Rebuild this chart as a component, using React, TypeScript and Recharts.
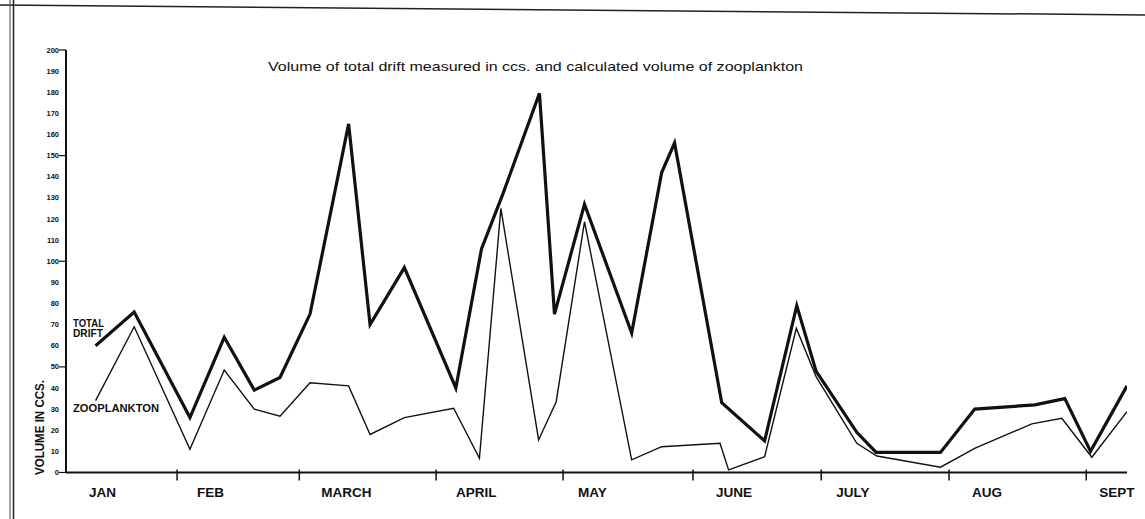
import React from 'react';
import { LineChart, Line, XAxis, YAxis } from 'recharts';

const monthTicks = [5.1, 31, 59.5, 91.4, 121, 151.3, 181.2, 211, 243];
const monthLabels = ['JAN', 'FEB', 'MARCH', 'APRIL', 'MAY', 'JUNE', 'JULY', 'AUG', 'SEPT'];
const yTicks = [0, 10, 20, 30, 40, 50, 60, 70, 80, 90, 100, 110, 120, 130, 140, 150, 160, 170, 180, 190, 200];

const totalDays = [12, 21, 34, 42, 49, 55, 62, 71, 76, 84, 96, 102, 107, 115.5, 119, 126, 137, 144, 147, 158, 168, 175.5, 180, 189.5, 194, 209, 217, 231, 238, 244, 252.5];
const totalValues = [60, 76, 26, 64, 39, 45, 75, 165, 70, 97, 40, 106, 132, 179.5, 75, 127, 66, 142, 156, 33, 15, 79, 48, 19, 9.5, 9.5, 30, 32, 35, 10, 41];

const zooDays = [12, 21, 34, 42, 49, 55, 62, 71, 76, 84, 95.5, 101.5, 106.5, 115.3, 119.4, 126, 137, 144, 157.6, 159.6, 168, 175.4, 180, 189.5, 194.2, 209, 217.1, 230.3, 237.3, 244.3, 252.5];
const zooValues = [34, 69, 11, 48.5, 30, 26.7, 42.5, 41, 18, 26, 30.4, 6.7, 125, 15.4, 33.5, 118.7, 6, 12.2, 13.8, 1.2, 7.5, 68.3, 45.4, 13.8, 7.8, 2.5, 11.5, 23, 25.7, 7.2, 28.8];

const totalData = totalDays.map((d, i) => ({ day: d, v: totalValues[i] }));
const zooData = zooDays.map((d, i) => ({ day: d, v: zooValues[i] }));

// label horizontal offsets from each month tick (style only)
const LABEL_DX = [23, 20, 22, 20, 15, 23, 15, 23, 13];

const FONT = 'Liberation Sans, Arial, Helvetica, sans-serif';

const YTick = (props: any) => {
  const { x, y, payload } = props;
  const major = payload.value % 50 === 0;
  return (
    <g>
      <text x={x - 7} y={y} dy={2.6} textAnchor="end" fontSize={7.5} fontWeight="bold" fontFamily={FONT} fill="#111" stroke="none">
        {payload.value}
      </text>
      {major && <line x1={x - 7} x2={x} y1={y} y2={y} stroke="#111" strokeWidth={1.2} />}
    </g>
  );
};

const XTick = (props: any) => {
  const { x, y, payload, index } = props;
  const idx = monthTicks.indexOf(payload.value);
  const i = idx >= 0 ? idx : index;
  return (
    <g>
      {i > 0 && <line x1={x} x2={x} y1={y - 3} y2={y + 8} stroke="#111" strokeWidth={1.5} />}
      <text x={x + LABEL_DX[i]} y={y + 24} textAnchor="start" fontSize={13.5} fontWeight="bold" fontFamily={FONT} fill="#111" stroke="none">
        {monthLabels[i]}
      </text>
    </g>
  );
};

export default function App() {
  return (
    <div style={{ position: 'absolute', left: 0, top: 0, width: 1145, height: 519, background: '#fff' }}>
      <LineChart width={1145} height={519} margin={{ top: 50, right: 18, bottom: 16.5, left: 0 }}>
        <XAxis
          type="number"
          dataKey="day"
          domain={[5.1, 252.5]}
          ticks={monthTicks}
          interval={0}
          allowDataOverflow
          height={30}
          tickSize={0}
          tickMargin={0}
          tickLine={false}
          axisLine={{ stroke: '#111', strokeWidth: 2 }}
          tick={<XTick />}
        />
        <YAxis
          type="number"
          domain={[0, 200]}
          ticks={yTicks}
          interval={0}
          width={66}
          tickSize={0}
          tickMargin={0}
          tickLine={false}
          axisLine={{ stroke: '#111', strokeWidth: 2 }}
          tick={<YTick />}
        />
        <Line data={zooData} dataKey="v" type="linear" stroke="#111" strokeWidth={1.4} dot={false} isAnimationActive={false} />
        <Line data={totalData} dataKey="v" type="linear" stroke="#111" strokeWidth={3.2} dot={false} isAnimationActive={false} />
        <text x={268} y={71} fontSize={13} fontFamily={FONT} fill="#111" textLength={535} lengthAdjust="spacingAndGlyphs">
          Volume of total drift measured in ccs. and calculated volume of zooplankton
        </text>
        <text x={73} y={326.5} fontSize={11} fontWeight="bold" fontFamily={FONT} fill="#111" textLength={31} lengthAdjust="spacingAndGlyphs">TOTAL</text>
        <text x={73} y={337} fontSize={11} fontWeight="bold" fontFamily={FONT} fill="#111" textLength={30} lengthAdjust="spacingAndGlyphs">DRIFT</text>
        <text x={73} y={411.5} fontSize={11} fontWeight="bold" fontFamily={FONT} fill="#111" textLength={86} lengthAdjust="spacingAndGlyphs">ZOOPLANKTON</text>
        <text x={44} y={427.5} transform="rotate(-90 44 427.5)" textAnchor="middle" fontSize={12} fontWeight="bold" fontFamily={FONT} fill="#111" textLength={95} lengthAdjust="spacingAndGlyphs">VOLUME IN CCS.</text>
        <line x1={0} y1={5} x2={1145} y2={15} stroke="#222" strokeWidth={1.5} />
        <line x1={10} y1={0} x2={10} y2={519} stroke="#444" strokeWidth={1} />
        <line x1={13.5} y1={0} x2={13.5} y2={519} stroke="#222" strokeWidth={1.5} />
      </LineChart>
    </div>
  );
}
